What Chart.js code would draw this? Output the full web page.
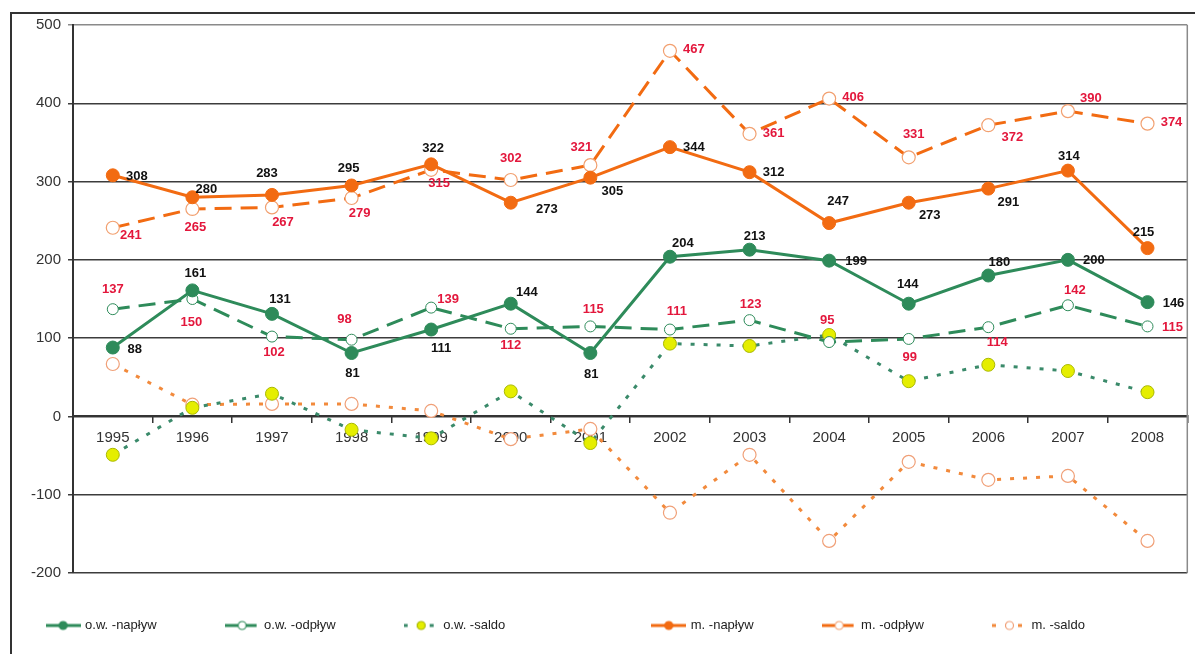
<!DOCTYPE html>
<html>
<head>
<meta charset="utf-8">
<script src="https://cdn.jsdelivr.net/npm/chart.js@4.4.1/dist/chart.umd.min.js"></script>
<style>
  html, body { margin: 0; padding: 0; background: #fff; overflow: hidden; }
  #frame { position: absolute; left: 10px; top: 12px; width: 1200px; height: 660px; border: 2px solid #333; }
  #wrap { position: absolute; left: 0; top: 0; width: 1183px; height: 640px; }
</style>
</head>
<body>
<div id="frame"><div id="wrap"><canvas id="chart"></canvas></div></div>
<script>
// Years on the x axis
const years = ['1995', '1996', '1997', '1998', '1999', '2000', '2001',
               '2002', '2003', '2004', '2005', '2006', '2007', '2008'];

// o.w. series
const owNaplyw = [88, 161, 131, 81, 111, 144, 81, 204, 213, 199, 144, 180, 200, 146];
const owOdplyw = [137, 150, 102, 98, 139, 112, 115, 111, 123, 95, 99, 114, 142, 115];
const owSaldo  = [-49, 11, 29, -17, -28, 32, -34, 93, 90, 104, 45, 66, 58, 31];

// m. series
const mNaplyw = [308, 280, 283, 295, 322, 273, 305, 344, 312, 247, 273, 291, 314, 215];
const mOdplyw = [241, 265, 267, 279, 315, 302, 321, 467, 361, 406, 331, 372, 390, 374];
const mSaldo  = [67, 15, 16, 16, 7, -29, -16, -123, -49, -159, -58, -81, -76, -159];

// y axis ticks
const yMin = -200, yMax = 500, yStep = 100;

// where each value label sits relative to its point [dx, dy]
const owNaplywLbl = [[22, 2], [3, -17], [8, -14], [1, 20], [10, 19], [16, -11], [1, 21],
                     [13, -13], [5, -13], [27, 1], [-1, -19], [11, -13], [26, 1], [26, 1]];
const owOdplywLbl = [[0, -20], [-1, 23], [2, 16], [-7, -20], [17, -8], [0, 17], [3, -17],
                     [7, -18], [1, -16], [-2, -22], [1, 18], [9, 15], [7, -15], [25, 1]];
const mNaplywLbl  = [[24, 1], [14, -8], [-5, -21], [-3, -17], [2, -16], [36, 7], [22, 14],
                     [24, 0], [24, 0], [9, -22], [21, 13], [20, 14], [1, -14], [-4, -16]];
const mOdplywLbl  = [[18, 8], [3, 18], [11, 15], [8, 15], [8, 14], [0, -22], [-9, -18],
                     [24, -1], [24, 0], [24, -1], [5, -23], [24, 12], [23, -13], [24, -1]];

const GREEN = '#2e8b5a';
const ORANGE = '#f26b12';
const RED = '#e3173c';
const EM = '\u2003';
const GAP = EM.repeat(5);
const WIDE_GAP = EM.repeat(11);

Chart.defaults.font.family = '"Liberation Sans", Arial, sans-serif';

function legendIcon(color, dash, fill, stroke) {
  const c = document.createElement('canvas');
  c.width = 35; c.height = 14;
  const g = c.getContext('2d');
  g.strokeStyle = color;
  g.lineWidth = 3;
  g.setLineDash(dash);
  g.beginPath(); g.moveTo(0, 7); g.lineTo(35, 7); g.stroke();
  g.setLineDash([]);
  g.beginPath(); g.arc(17.5, 7, 4, 0, Math.PI * 2);
  g.fillStyle = fill; g.fill();
  g.lineWidth = 1.2; g.strokeStyle = stroke; g.stroke();
  return c;
}

// gray right edge of the plot area
const plotEdge = {
  id: 'plotEdge',
  beforeDatasetsDraw(chart) {
    const { ctx, chartArea: a } = chart;
    ctx.save();
    ctx.strokeStyle = '#8a8a8a';
    ctx.lineWidth = 1.5;
    ctx.beginPath(); ctx.moveTo(a.right, a.top); ctx.lineTo(a.right, a.bottom); ctx.stroke();
    ctx.restore();
  }
};

// numbers next to the points
const valueLabels = {
  id: 'valueLabels',
  afterDatasetsDraw(chart) {
    const ctx = chart.ctx;
    ctx.save();
    ctx.font = 'bold 13px "Liberation Sans", Arial, sans-serif';
    ctx.textAlign = 'center';
    ctx.textBaseline = 'middle';
    chart.data.datasets.forEach((ds, i) => {
      if (!ds.labelOffsets) return;
      ctx.fillStyle = ds.labelColor;
      chart.getDatasetMeta(i).data.forEach((pt, j) => {
        const [dx, dy] = ds.labelOffsets[j];
        ctx.fillText(String(ds.data[j]), pt.x + dx, pt.y + dy);
      });
    });
    ctx.restore();
  }
};

const datasets = [
  {
    label: 'o.w. -napływ', data: owNaplyw,
    borderColor: GREEN, borderWidth: 3,
    pointRadius: 6.5, pointBackgroundColor: GREEN, pointBorderColor: GREEN, pointBorderWidth: 1,
    labelColor: '#111', labelOffsets: owNaplywLbl,
    icon: legendIcon(GREEN, [], GREEN, GREEN)
  },
  {
    label: 'o.w. -odpływ', data: owOdplyw,
    borderColor: GREEN, borderWidth: 3, borderDash: [17, 9],
    pointRadius: 5.5, pointBackgroundColor: '#fff', pointBorderColor: GREEN, pointBorderWidth: 1,
    labelColor: RED, labelOffsets: owOdplywLbl,
    icon: legendIcon(GREEN, [13, 6], '#fff', GREEN)
  },
  {
    label: 'o.w. -saldo', data: owSaldo,
    borderColor: '#3a8a6a', borderWidth: 3, borderDash: [4, 9],
    pointRadius: 6.5, pointBackgroundColor: '#e5ee00', pointBorderColor: '#a9b800', pointBorderWidth: 1,
    icon: legendIcon('#3a8a6a', [4, 9], '#e5ee00', '#a9b800')
  },
  {
    label: 'm. -napływ', data: mNaplyw,
    borderColor: ORANGE, borderWidth: 3,
    pointRadius: 6.5, pointBackgroundColor: ORANGE, pointBorderColor: ORANGE, pointBorderWidth: 1,
    labelColor: '#111', labelOffsets: mNaplywLbl,
    icon: legendIcon(ORANGE, [], ORANGE, ORANGE)
  },
  {
    label: 'm. -odpływ', data: mOdplyw,
    borderColor: ORANGE, borderWidth: 3, borderDash: [17, 9],
    pointRadius: 6.5, pointBackgroundColor: '#fff', pointBorderColor: '#f2a070', pointBorderWidth: 1.2,
    labelColor: RED, labelOffsets: mOdplywLbl,
    icon: legendIcon(ORANGE, [13, 6], '#fff', '#f2a070')
  },
  {
    label: 'm. -saldo', data: mSaldo,
    borderColor: '#f28a3c', borderWidth: 3, borderDash: [4, 9],
    pointRadius: 6.5, pointBackgroundColor: '#fff', pointBorderColor: '#f0a078', pointBorderWidth: 1.2,
    icon: legendIcon('#f28a3c', [4, 9], '#fff', '#f0a078')
  }
];

new Chart(document.getElementById('chart'), {
  type: 'line',
  data: { labels: years, datasets },
  options: {
    responsive: true,
    maintainAspectRatio: false,
    animation: false,
    layout: { padding: { left: 0, right: 3, top: 5, bottom: 12 } },
    plugins: {
      tooltip: { enabled: false },
      legend: {
        position: 'bottom',
        align: 'center',
        // empty title only used as spacer between the plot and the legend row
        title: { display: true, text: ' ', font: { size: 1, lineHeight: 1 }, padding: { top: 40, bottom: 0 } },
        labels: {
          usePointStyle: true,
          pointStyleWidth: 31,
          padding: 5,
          color: '#222',
          font: { size: 13 },
          generateLabels: chart => chart.data.datasets.map((ds, i) => ({
            text: ds.label + (i === 2 ? WIDE_GAP : i === 5 ? GAP + '\u2002' : GAP),
            pointStyle: ds.icon,
            fontColor: '#222',
            datasetIndex: i,
            hidden: false,
            lineWidth: 0,
            strokeStyle: 'transparent',
            fillStyle: 'transparent'
          }))
        }
      }
    },
    scales: {
      x: {
        type: 'category',
        position: { y: 0 },
        offset: true,
        grid: { offset: true, drawOnChartArea: false, drawTicks: true, tickLength: 6, color: '#333', lineWidth: 1.5 },
        border: { display: true, color: '#333', width: 2 },
        ticks: { font: { size: 15 }, color: '#333', padding: 6, maxRotation: 0, autoSkip: false }
      },
      y: {
        min: yMin,
        max: yMax,
        ticks: { stepSize: yStep, font: { size: 15 }, color: '#333', padding: 7 },
        grid: {
          color: c => (c.tick && c.tick.value === yMax ? '#8a8a8a' : '#3c3c3c'),
          lineWidth: 1.5,
          tickLength: 5
        },
        border: { display: true, color: '#333', width: 2 },
        afterFit: s => { s.width = 61; s.paddingTop = 11; }
      }
    }
  },
  plugins: [plotEdge, valueLabels]
});
</script>
</body>
</html>
